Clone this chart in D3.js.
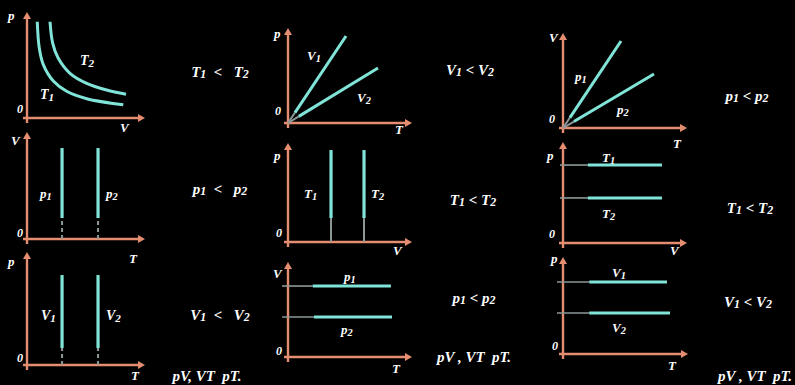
<!DOCTYPE html>
<html><head><meta charset="utf-8">
<script src="https://cdn.jsdelivr.net/npm/d3@7"></script>
<style>html,body{margin:0;padding:0;background:#000;}svg{display:block;}text{white-space:pre;}</style>
</head><body>
<svg id="c" width="795" height="385"></svg>
<script>
// ---------- data (domain 0..10 on every axis) ----------
// Panel 1: p–V isotherms
const isoT1 = [[0.87,9.08],[1.04,6.6],[1.38,5.03],[2.25,3.46],[3.36,2.52],[5.06,1.82],[8.16,1.25]];
const isoT2 = [[1.95,9.08],[2.18,7.05],[2.65,5.63],[3.64,4.22],[5.06,3.27],[6.75,2.64],[8.39,2.24]];
// Panel 2: V–T isobars (vertical)  [x, solidFrom, top]
const vtIsobars = [[2.97,1.96,8.5],[6.02,1.96,8.5]];
// Panel 3: p–T isochores (vertical)
const ptIsochores = [[2.97,1.5,7.96],[6.02,1.5,7.96]];
// Panel 4: p–T lines through origin (end points)
const ptLines = [[4.68,9.16],[7.26,5.79]];
// Panel 5: p–V isotherms (vertical)
const pvVertical = [[3.47,2.42,9.29],[6.13,2.42,9.29]];
// Panel 6: V–T isobars (horizontal) [y, greyFrom, solidFrom, end]
const vtHoriz = [[7.47,-0.48,2.0,8.3],[4.21,-0.48,2.1,8.39]];
// Panel 7: V–T lines through origin
const vtLines = [[4.68,9.16],[7.34,5.68]];
// Panel 8: p–V horizontal isotherms
const pvHoriz = [[7.72,-0.24,2.0,7.98],[4.46,-0.24,2.0,7.98]];
// Panel 9: p–T horizontal isochores
const ptHoriz = [[7.42,-0.48,2.1,8.32],[4.23,-0.48,2.1,8.56]];
// relation texts
const relations = [["T","1","T","2"],["p","1","p","2"],["V","1","V","2"],
                   ["V","1","V","2"],["T","1","T","2"],["p","1","p","2"],
                   ["p","1","p","2"],["T","1","T","2"],["V","1","V","2"]];
const footers = ["pV, VT  pT.", "pV , VT  pT.", "pV , VT  pT."];

// ---------- layout ----------
const AX = "#e58d70", CY = "#80e4d8", GR = "#8d9998";
const svg = d3.select("#c");
svg.append("rect").attr("width",795).attr("height",385).attr("fill","#000");
const FONT = "'Liberation Serif', serif";

const panels = [
 {x:[27,145], y:[118,12],  yl:"p", xl:"V", lab:[[8,20],[17,113],[120,132]], rel:[220,77]},
 {x:[27,145], y:[239,132], yl:"V", xl:"T", lab:[[11,145],[17,237],[129,263]], rel:[220,194]},
 {x:[27,145], y:[365,252], yl:"p", xl:"T", lab:[[8,266],[17,362],[131,380]], rel:[220,320]},
 {x:[288,412],y:[123,28],  yl:"p", xl:"T", lab:[[274,38],[275,115],[395,134]], rel:[470,75]},
 {x:[288,412],y:[242,143], yl:"p", xl:"V", lab:[[274,160],[276,237],[393,255]], rel:[473,205]},
 {x:[288,412],y:[357,262], yl:"V", xl:"T", lab:[[273,278],[276,355],[392,373]], rel:[474,303]},
 {x:[563,687],y:[128,33],  yl:"V", xl:"T", lab:[[549,42],[549,123],[673,148]], rel:[747,101]},
 {x:[563,687],y:[243,142], yl:"p", xl:"V", lab:[[547,160],[549,238],[670,255]], rel:[750,213]},
 {x:[563,688],y:[354,257], yl:"p", xl:"T", lab:[[551,263],[552,350],[668,370]], rel:[748,307]}
];

function italicLabel(g, x, y, main, sub, size, anchor){
  const t = g.append("text").attr("x",x).attr("y",y).attr("fill","#fff")
    .attr("font-family",FONT).attr("font-weight","bold").attr("font-style","italic")
    .attr("font-size",size).attr("text-anchor",anchor||"start");
  t.append("tspan").text(main);
  if(sub) t.append("tspan").attr("font-size",size*0.8).attr("dy",2).text(sub);
  return t;
}

const scales = panels.map(P => ({
  x: d3.scaleLinear().domain([0,10]).range(P.x),
  y: d3.scaleLinear().domain([0,10]).range(P.y)
}));

panels.forEach((P,i) => {
  const g = svg.append("g");
  const sx = scales[i].x, sy = scales[i].y;
  // axes
  g.append("line").attr("x1",sx(0)).attr("x2",sx(0)).attr("y1",sy(0)+5).attr("y2",sy(10)+4)
    .attr("stroke",AX).attr("stroke-width",2.4);
  g.append("line").attr("x1",sx(0)-4).attr("x2",sx(10)-4).attr("y1",sy(0)).attr("y2",sy(0))
    .attr("stroke",AX).attr("stroke-width",2.4);
  g.append("path").attr("d",`M${sx(0)-4},${sy(10)+7} L${sx(0)},${sy(10)} L${sx(0)+4},${sy(10)+7} Z`).attr("fill",AX);
  g.append("path").attr("d",`M${sx(10)-7},${sy(0)-4} L${sx(10)},${sy(0)} L${sx(10)-7},${sy(0)+4} Z`).attr("fill",AX);
  // axis labels
  italicLabel(g, P.lab[0][0], P.lab[0][1], P.yl, null, 13);
  italicLabel(g, P.lab[1][0], P.lab[1][1], "0", null, 12);
  italicLabel(g, P.lab[2][0], P.lab[2][1], P.xl, null, 13);
  // relation text
  const r = relations[i];
  const t = g.append("text").attr("x",P.rel[0]).attr("y",P.rel[1]).attr("fill","#fff")
    .attr("font-family",FONT).attr("font-weight","bold").attr("font-style","italic")
    .attr("font-size",15).attr("text-anchor","middle");
  t.append("tspan").text(r[0]);
  t.append("tspan").attr("font-size",12).attr("dy",1).text(r[1]);
  t.append("tspan").attr("dy",-1).text(i<3 ? "  <   " : " < ");
  t.append("tspan").text(r[2]);
  t.append("tspan").attr("font-size",12).attr("dy",1).text(r[3]);
});

function drawVertical(i, arr, dashed){
  const sx = scales[i].x, sy = scales[i].y;
  const g = svg.append("g");
  arr.forEach(d => {
    g.append("line").attr("x1",sx(d[0])).attr("x2",sx(d[0])).attr("y1",sy(0)).attr("y2",sy(d[1]))
      .attr("stroke",GR).attr("stroke-width",2).attr("stroke-dasharray",dashed?"4,3":null);
    g.append("line").attr("x1",sx(d[0])).attr("x2",sx(d[0])).attr("y1",sy(d[1])).attr("y2",sy(d[2]))
      .attr("stroke",CY).attr("stroke-width",3.2);
  });
}
function drawHoriz(i, arr){
  const sx = scales[i].x, sy = scales[i].y;
  const g = svg.append("g");
  arr.forEach(d => {
    g.append("line").attr("x1",sx(d[1])).attr("x2",sx(d[2])).attr("y1",sy(d[0])).attr("y2",sy(d[0]))
      .attr("stroke",GR).attr("stroke-width",1.6);
    g.append("line").attr("x1",sx(d[2])).attr("x2",sx(d[3])).attr("y1",sy(d[0])).attr("y2",sy(d[0]))
      .attr("stroke",CY).attr("stroke-width",3);
  });
}
function drawRays(i, arr){
  const sx = scales[i].x, sy = scales[i].y;
  const g = svg.append("g");
  arr.forEach(d => {
    g.append("line").attr("x1",sx(0)).attr("y1",sy(0)).attr("x2",sx(d[0]*0.12)).attr("y2",sy(d[1]*0.12))
      .attr("stroke",GR).attr("stroke-width",2);
    g.append("line").attr("x1",sx(d[0]*0.12)).attr("y1",sy(d[1]*0.12)).attr("x2",sx(d[0])).attr("y2",sy(d[1]))
      .attr("stroke",CY).attr("stroke-width",3);
  });
}

// panel 1 curves
{
  const sx = scales[0].x, sy = scales[0].y;
  const line = d3.line().x(d=>sx(d[0])).y(d=>sy(d[1])).curve(d3.curveCatmullRom);
  [isoT1, isoT2].forEach(s => svg.append("path").attr("d",line(s)).attr("fill","none")
    .attr("stroke",CY).attr("stroke-width",3));
}
drawVertical(1, vtIsobars, true);
drawVertical(2, ptIsochores, true);
drawRays(3, ptLines);
drawVertical(4, pvVertical, false);
drawHoriz(5, vtHoriz);
drawRays(6, vtLines);
drawHoriz(7, pvHoriz);
drawHoriz(8, ptHoriz);

// curve / line labels
const L = svg.append("g");
italicLabel(L, 80, 65, "T","2",14);
italicLabel(L, 40, 99, "T","1",14);
italicLabel(L, 40, 198, "p","1",13);
italicLabel(L, 106, 198, "p","2",13);
italicLabel(L, 41, 320, "V","1",14);
italicLabel(L, 106, 320, "V","2",14);
italicLabel(L, 307, 60, "V","1",13);
italicLabel(L, 357, 102, "V","2",13);
italicLabel(L, 304, 198, "T","1",13);
italicLabel(L, 371, 198, "T","2",13);
italicLabel(L, 344, 281, "p","1",13);
italicLabel(L, 341, 334, "p","2",13);
italicLabel(L, 575, 81, "p","1",13);
italicLabel(L, 617, 114, "p","2",13);
italicLabel(L, 602, 162, "T","1",13);
italicLabel(L, 602, 218, "T","2",13);
italicLabel(L, 612, 277, "V","1",13);
italicLabel(L, 612, 332, "V","2",13);

// footers
[[207,381],[474,362],[755,381]].forEach((p,k) => {
  L.append("text").attr("x",p[0]).attr("y",p[1]).attr("fill","#fff")
   .attr("font-family",FONT).attr("font-weight","bold").attr("font-style","italic")
   .attr("font-size",15).attr("text-anchor","middle").text(footers[k]);
});
</script>
</body></html>
